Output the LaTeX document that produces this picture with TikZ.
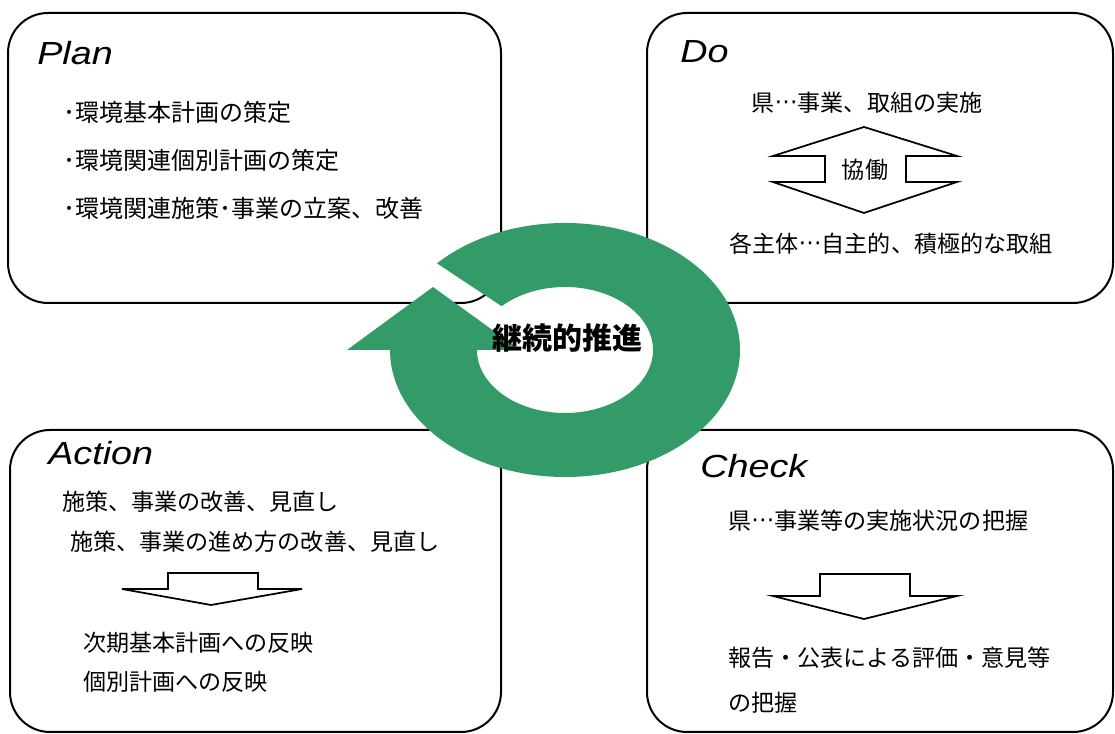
\documentclass[tikz,border=0pt]{standalone}
\usepackage{fontspec}
\setmainfont{Noto Sans CJK JP}
\newfontfamily\jp{Noto Sans CJK JP}
\newfontfamily\dvs{DejaVu Sans}
\newfontfamily\ttl[FakeStretch=1.18]{Liberation Sans}
\newcommand{\jpdots}{\makebox[1em][c]{\dvs\raisebox{0.08em}{⋯}}}
\usetikzlibrary{calc}
\definecolor{ringgreen}{RGB}{51,155,104}
\begin{document}
\begin{tikzpicture}[x=0.75pt,y=0.75pt,
  box/.style={draw=black, line width=1.5pt, rounded corners=30pt},
  ttlstyle/.style={anchor=west, inner sep=0pt, font=\ttl\itshape\fontsize{24}{24}\selectfont},
  body/.style={anchor=west, inner sep=0pt, font=\jp\fontsize{17.3}{17.3}\selectfont},
  bodyp/.style={anchor=west, inner sep=0pt, font=\jp\fontsize{18}{18}\selectfont},
  bodyc/.style={inner sep=0pt, font=\jp\fontsize{17.3}{17.3}\selectfont},
  shp/.style={draw=black, line width=1.3pt, fill=white, line join=miter}
]
\useasboundingbox (0,0) rectangle (1115,734);
% boxes
\draw[box] (8,431) rectangle (501,721);
\draw[box] (647,431) rectangle (1113,721);
\draw[box] (10,2) rectangle (501,304);
\draw[box] (647,2) rectangle (1113,304);

% Plan
\node[ttlstyle] (plan) at (37,681) {Plan};
\node[bodyp] (p1) at (63,622) {･環境基本計画の策定};
\node[bodyp] (p2) at (63,574) {･環境関連個別計画の策定};
\node[bodyp] (p3) at (63,526) {･環境関連施策･事業の立案、改善};

% Do
\node[ttlstyle] (do) at (680,682) {Do};
\node[bodyc] (d1) at (867,631) {県\jpdots 事業、取組の実施};
\draw[shp] (773,578) -- (864,607) -- (957,578) -- (906,578) -- (906,552) -- (957,552)
  -- (864,521) -- (773,552) -- (825,552) -- (825,578) -- cycle;
\node[bodyc] (kyo) at (865,564) {協働};
\node[bodyc] (d2) at (891,490) {各主体\jpdots 自主的、積極的な取組};

% Action
\node[ttlstyle] (act) at (48,281) {Action};
\node[body] (a1) at (62,232) {施策、事業の改善、見直し};
\node[body] (a2) at (70,192) {施策、事業の進め方の改善、見直し};
\draw[shp] (168,145) -- (168,161) -- (258,161) -- (258,145) -- (302,145) -- (211,129) -- (122,145) -- cycle;
\node[body] (a3) at (83,91) {次期基本計画への反映};
\node[body] (a4) at (83,52) {個別計画への反映};

% Check
\node[ttlstyle] (chk) at (700,268) {Check};
\node[body] (c1) at (728,213) {県\jpdots 事業等の実施状況の把握};
\draw[shp] (820,138) -- (820,160) -- (910,160) -- (910,138) -- (957,138) -- (864,115) -- (773,138) -- cycle;
\node[body] (c2) at (728,76) {報告・公表による評価・意見等};
\node[body] (c3) at (728,31) {の把握};

% ring arrow
\fill[ringgreen] ($(565,384)+(137:175 and 127)$)
  arc[start angle=137, end angle=-180, x radius=175, y radius=127]
  -- (347,384) -- (433,447) -- (520,384) -- (477,384)
  arc[start angle=-180, end angle=136, x radius=88, y radius=63] -- cycle;
\node[inner sep=0pt, font=\jp\bfseries\fontsize{22.5}{22.5}\selectfont] (ring) at (567,396) {継続的推進};
\end{tikzpicture}
\end{document}
